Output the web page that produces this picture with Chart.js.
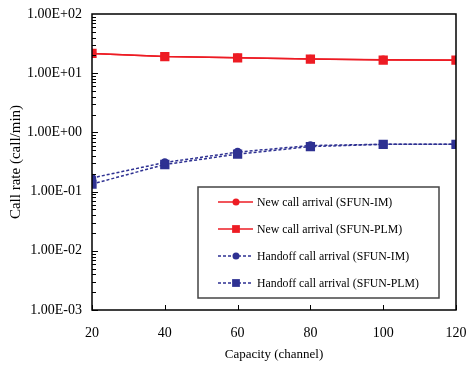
<!DOCTYPE html>
<html>
<head>
<meta charset="utf-8">
<script src="https://cdn.jsdelivr.net/npm/chart.js@4.4.1/dist/chart.umd.min.js"></script>
<style>
  html, body { margin: 0; padding: 0; background: #fff; }
  #wrap { width: 469px; height: 365px; position: relative; }
</style>
</head>
<body>
<div id="wrap"><canvas id="c" width="469" height="365"></canvas></div>
<script>
const capacity = [20, 40, 60, 80, 100, 120];
const newCallIM = [21.5, 19.2, 18.3, 17.4, 16.8, 16.7];
const newCallPLM = [21.6, 19.1, 18.2, 17.3, 16.7, 16.6];
const handoffIM = [0.17, 0.31, 0.465, 0.60, 0.63, 0.63];
const handoffPLM = [0.134, 0.287, 0.43, 0.575, 0.63, 0.63];
const seriesNames = [
  'New call arrival (SFUN-IM)',
  'New call arrival (SFUN-PLM)',
  'Handoff call arrival (SFUN-IM)',
  'Handoff call arrival (SFUN-PLM)'
];
const xTicks = [20, 40, 60, 80, 100, 120];
const yDecades = [0.001, 0.01, 0.1, 1, 10, 100];
const xTitle = 'Capacity (channel)';
const yTitle = 'Call rate (call/min)';

const RED = '#ED1C24';
const BLUE = '#2E3192';
const FONT = "'Liberation Serif', 'Times New Roman', serif";

function toPts(ys) { return capacity.map((x, i) => ({ x: x, y: ys[i] })); }
function fmtExp(v) {
  const e = Math.round(Math.log10(v));
  const s = e < 0 ? '-' : '+';
  const a = Math.abs(e);
  return '1.00E' + s + (a < 10 ? '0' + a : '' + a);
}

const frameAndTicks = {
  id: 'frameAndTicks',
  afterDatasetsDraw(chart) {
    const ctx = chart.ctx;
    const a = chart.chartArea;
    const xs = chart.scales.x, ys = chart.scales.y;
    ctx.save();
    ctx.strokeStyle = '#000';
    ctx.lineWidth = 1;
    for (let e = -3; e <= 1; e++) {
      for (let k = 1; k <= 9; k++) {
        const v = k * Math.pow(10, e);
        const py = Math.round(ys.getPixelForValue(v)) + 0.5;
        const len = k === 1 ? 6 : 4;
        ctx.beginPath();
        ctx.moveTo(a.left, py);
        ctx.lineTo(a.left + len, py);
        ctx.stroke();
      }
    }
    xTicks.forEach(v => {
      const px = Math.round(xs.getPixelForValue(v)) + 0.5;
      ctx.beginPath();
      ctx.moveTo(px, a.bottom);
      ctx.lineTo(px, a.bottom - 5);
      ctx.stroke();
    });
    ctx.lineWidth = 1.5;
    ctx.strokeRect(a.left, a.top, a.right - a.left, a.bottom - a.top);
    ctx.restore();
  }
};

const boxLegend = {
  id: 'boxLegend',
  afterDraw(chart) {
    const ctx = chart.ctx;
    ctx.save();
    const bx = 198, by = 187, bw = 241, bh = 111;
    ctx.fillStyle = '#fff';
    ctx.fillRect(bx, by, bw, bh);
    ctx.strokeStyle = '#444';
    ctx.lineWidth = 1.5;
    ctx.strokeRect(bx, by, bw, bh);
    const rows = [202, 229, 256, 283];
    chart.data.datasets.forEach((ds, i) => {
      const y = rows[i];
      ctx.save();
      ctx.strokeStyle = ds.borderColor;
      ctx.lineWidth = ds.borderWidth;
      ctx.setLineDash(ds.borderDash || []);
      ctx.beginPath();
      ctx.moveTo(218, y);
      ctx.lineTo(253, y);
      ctx.stroke();
      ctx.setLineDash([]);
      ctx.fillStyle = ds.pointBackgroundColor;
      ctx.beginPath();
      if (ds.pointStyle === 'rect') {
        const s = Math.SQRT1_2 * ds.pointRadius;
        ctx.rect(236 - s, y - s, 2 * s, 2 * s);
      } else {
        ctx.arc(236, y, ds.pointRadius, 0, Math.PI * 2);
      }
      ctx.fill();
      ctx.restore();
      ctx.fillStyle = '#000';
      ctx.font = '11.8px ' + FONT;
      ctx.textBaseline = 'middle';
      ctx.textAlign = 'left';
      ctx.fillText(ds.label, 257, y + 0.5);
    });
    ctx.restore();
  }
};

new Chart(document.getElementById('c'), {
  type: 'line',
  data: {
    datasets: [
      { label: seriesNames[0], data: toPts(newCallIM), borderColor: RED, backgroundColor: RED,
        pointBackgroundColor: RED, pointBorderColor: RED, borderWidth: 1.5, pointStyle: 'circle', pointRadius: 3.5 },
      { label: seriesNames[1], data: toPts(newCallPLM), borderColor: RED, backgroundColor: RED,
        pointBackgroundColor: RED, pointBorderColor: RED, borderWidth: 1.5, pointStyle: 'rect', pointRadius: 5.5 },
      { label: seriesNames[2], data: toPts(handoffIM), borderColor: BLUE, backgroundColor: BLUE,
        pointBackgroundColor: BLUE, pointBorderColor: BLUE, borderWidth: 1.5, borderDash: [3, 2], pointStyle: 'circle', pointRadius: 3.5 },
      { label: seriesNames[3], data: toPts(handoffPLM), borderColor: BLUE, backgroundColor: BLUE,
        pointBackgroundColor: BLUE, pointBorderColor: BLUE, borderWidth: 1.5, borderDash: [3, 2], pointStyle: 'rect', pointRadius: 5.5 }
    ]
  },
  options: {
    responsive: false,
    animation: false,
    layout: { padding: { top: 14, right: 13, left: 0, bottom: 0 } },
    plugins: { legend: { display: false }, tooltip: { enabled: false } },
    elements: { line: { tension: 0 }, point: { borderWidth: 1 } },
    scales: {
      x: {
        type: 'linear', min: 20, max: 120,
        afterBuildTicks(s) { s.ticks = xTicks.map(v => ({ value: v })); },
        afterFit(s) { s.height = 55; s.paddingLeft = 0; s.paddingRight = 0; },
        grid: { display: false, drawTicks: false },
        border: { display: false },
        ticks: { color: '#000', padding: 15, maxRotation: 0, font: { family: FONT, size: 14 } },
        title: { display: true, text: xTitle, color: '#000', font: { family: FONT, size: 13 }, padding: { top: 0, bottom: 3 } }
      },
      y: {
        type: 'logarithmic', min: 0.001, max: 100,
        afterBuildTicks(s) { s.ticks = yDecades.map(v => ({ value: v, major: true })); },
        afterFit(s) { s.width = 92; s.paddingTop = 0; s.paddingBottom = 0; },
        grid: { display: false, drawTicks: false },
        border: { display: false },
        ticks: { color: '#000', padding: 10, font: { family: FONT, size: 14 }, callback: (v) => fmtExp(v) },
        title: { display: true, text: yTitle, color: '#000', font: { family: FONT, size: 15 }, padding: { top: 7, bottom: 0 } }
      }
    }
  },
  plugins: [frameAndTicks, boxLegend]
});
</script>
</body>
</html>
